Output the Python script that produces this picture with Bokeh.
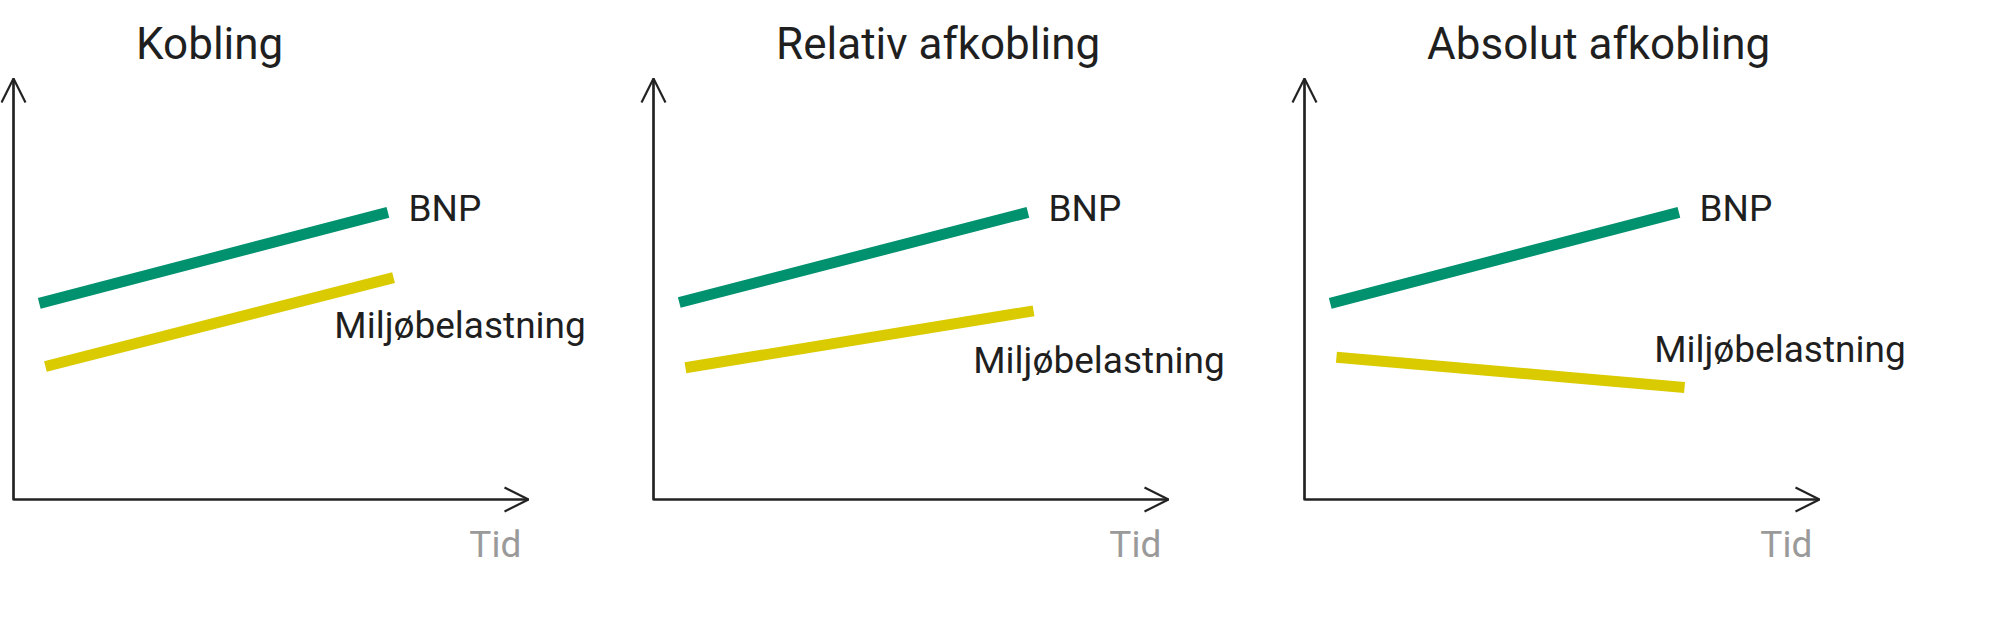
from bokeh.plotting import figure
from bokeh.models import Range1d, Arrow, OpenHead, Label
from bokeh.layouts import row
from bokeh.embed import file_html
from bokeh.resources import INLINE

# ---- data (schematic values) ----
panel_titles = ["Kobling", "Relativ afkobling", "Absolut afkobling"]
series_names = ["BNP", "Miljøbelastning"]
axis_label = "Tid"

bnp_time = [0.50, 7.27]
miljo_time = [0.62, 7.38]

bnp_kobling = [4.66, 6.82]
bnp_relativ = [4.68, 6.82]
bnp_absolut = [4.66, 6.82]

miljo_kobling = [3.16, 5.27]
miljo_relativ = [3.13, 4.48]
miljo_absolut = [3.38, 2.66]

bnp_series = [bnp_kobling, bnp_relativ, bnp_absolut]
miljo_series = [miljo_kobling, miljo_relativ, miljo_absolut]

# ---- layout / style ----
GREEN = "#00916E"
YELLOW = "#DACB00"
AXIS = "#222222"
TEXT = "#1f1f1f"
GREY = "#9a9a9a"
FONT = "Roboto"

AX_MAX = 10.0            # arrow tips in data units
PX_X = 51.5              # pixels per time unit
PX_Y = 42.1              # pixels per value unit
H = 603
ORIGIN_FROM_BOTTOM = 104 # px

fig_widths = [638, 651, 695]
origin_left = [13, 15, 15]

# label anchor positions (data units) per panel
bnp_label_pos = [(7.67, 6.91), (7.67, 6.91), (7.67, 6.91)]
miljo_label_pos = [(6.23, 4.13), (6.21, 3.30), (6.79, 3.56)]
title_pos = (2.38, 10.83)
tid_pos = (9.86, -1.07)

figs = []
for i, title in enumerate(panel_titles):
    w = fig_widths[i]
    x0 = -origin_left[i] / PX_X
    y0 = -ORIGIN_FROM_BOTTOM / PX_Y
    p = figure(width=w, height=H,
               x_range=Range1d(x0, x0 + w / PX_X),
               y_range=Range1d(y0, y0 + H / PX_Y),
               x_axis_type=None, y_axis_type=None,
               output_backend="svg", toolbar_location=None,
               min_border=0, outline_line_color=None,
               background_fill_color="white", border_fill_color="white")
    p.grid.visible = False

    # axes
    p.line([0, 0, AX_MAX], [AX_MAX, 0, 0], line_color=AXIS, line_width=2.2,
           line_join="miter")
    p.add_layout(Arrow(end=OpenHead(size=24, line_width=2.2, line_color=AXIS),
                       x_start=0, y_start=0, x_end=AX_MAX, y_end=0,
                       line_width=2.2, line_color=AXIS))
    p.add_layout(Arrow(end=OpenHead(size=24, line_width=2.2, line_color=AXIS),
                       x_start=0, y_start=0, x_end=0, y_end=AX_MAX,
                       line_width=2.2, line_color=AXIS))

    # series
    p.line(bnp_time, bnp_series[i], line_color=GREEN, line_width=11, line_cap="butt")
    p.line(miljo_time, miljo_series[i], line_color=YELLOW, line_width=11, line_cap="butt")

    # texts
    p.add_layout(Label(x=title_pos[0], y=title_pos[1], text=title,
                       text_font=FONT, text_font_size="44px", text_color=TEXT,
                       text_baseline="alphabetic", text_align="left"))
    p.add_layout(Label(x=bnp_label_pos[i][0], y=bnp_label_pos[i][1], text=series_names[0],
                       text_font=FONT, text_font_size="37px", text_color=TEXT,
                       text_baseline="alphabetic", text_align="left"))
    p.add_layout(Label(x=miljo_label_pos[i][0], y=miljo_label_pos[i][1], text=series_names[1],
                       text_font=FONT, text_font_size="37px", text_color=TEXT,
                       text_baseline="alphabetic", text_align="left"))
    p.add_layout(Label(x=tid_pos[0], y=tid_pos[1], text=axis_label,
                       text_font=FONT, text_font_size="37px", text_color=GREY,
                       text_baseline="alphabetic", text_align="right"))
    figs.append(p)

layout = row(*figs, spacing=0)
open("out.html", "w").write(file_html(layout, INLINE))
